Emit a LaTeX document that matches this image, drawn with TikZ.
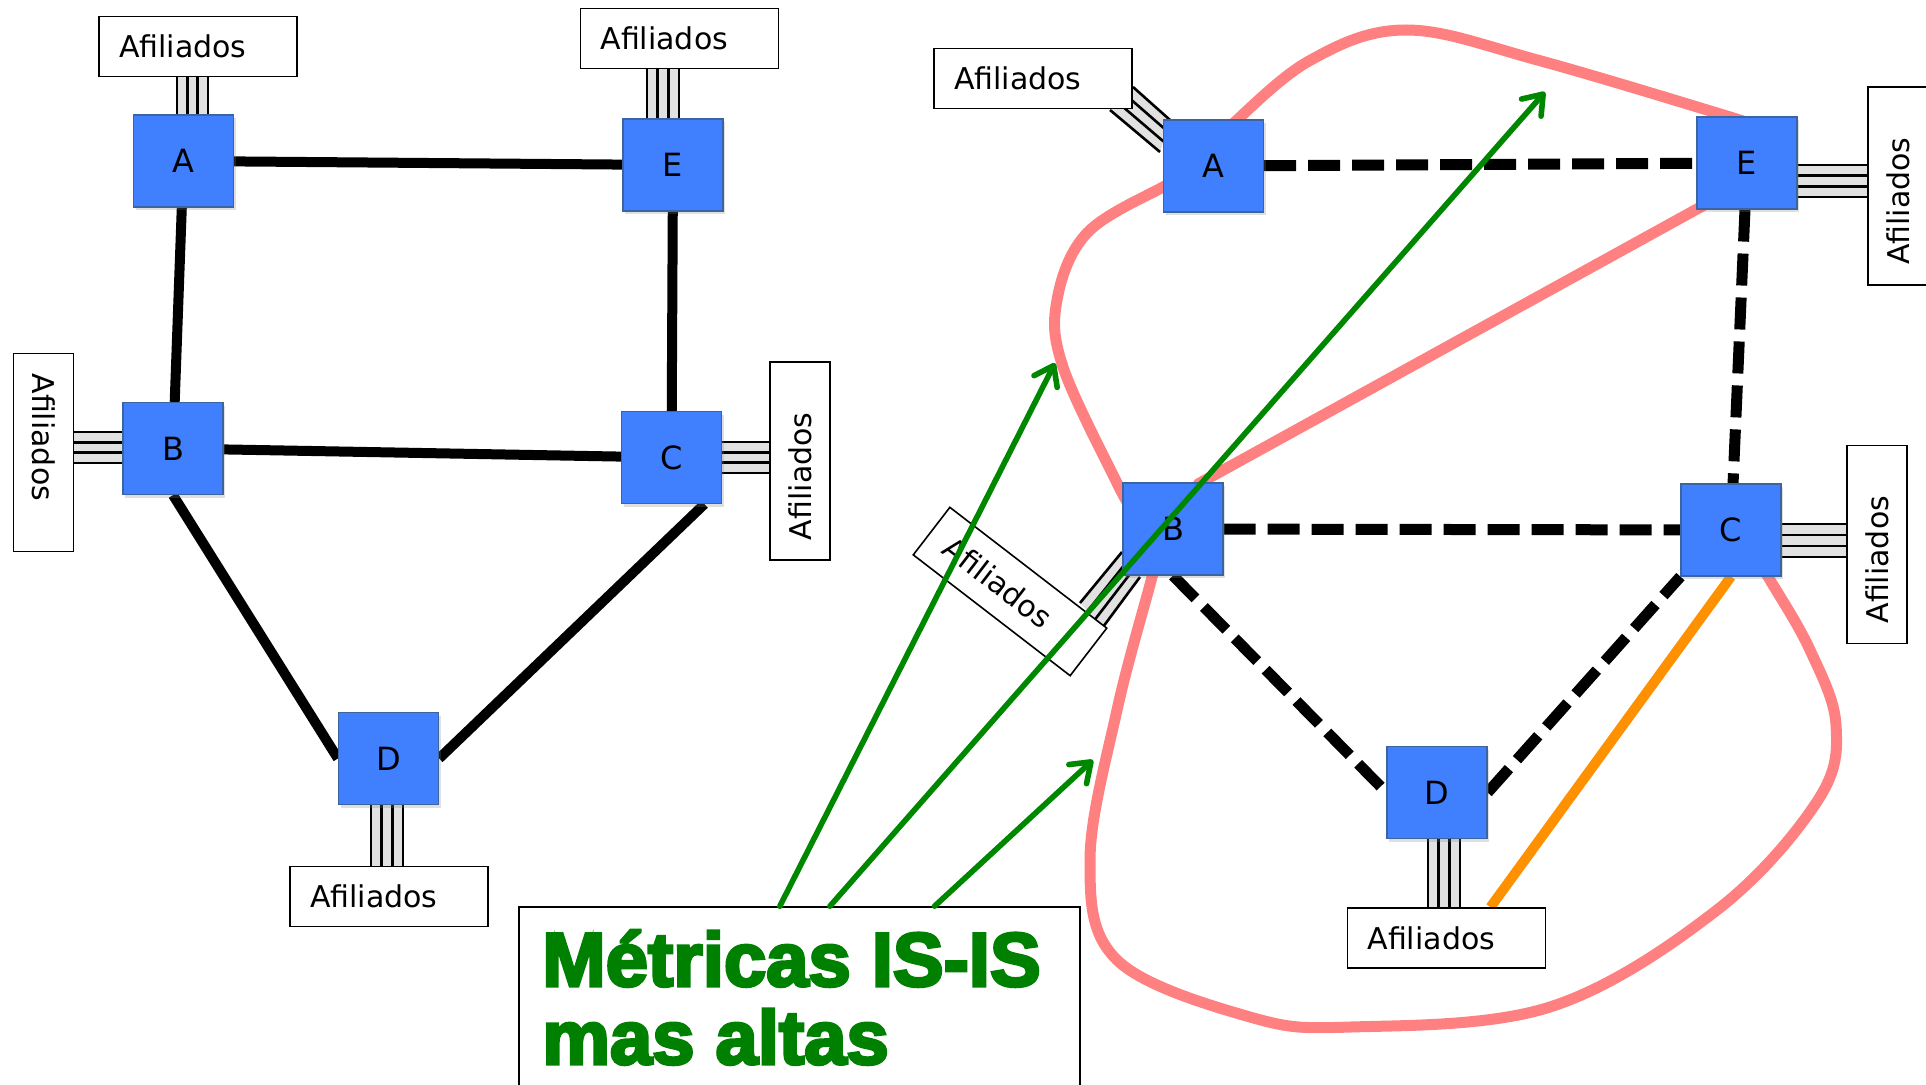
\documentclass[tikz,border=0pt]{standalone}
\usepackage{fontspec}
\setmainfont{DejaVu Sans}
\newfontfamily\bigfont[BoldFeatures={FakeBold=4}]{Liberation Sans}
\usetikzlibrary{calc,arrows.meta,shadows}
\definecolor{routerblue}{RGB}{64,128,255}
\definecolor{routeredge}{RGB}{60,100,160}
\definecolor{pinkline}{RGB}{255,128,128}
\definecolor{orangeline}{RGB}{255,145,0}
\definecolor{greenarrow}{RGB}{0,135,0}
\definecolor{greentext}{RGB}{0,128,0}
\definecolor{cablegray}{RGB}{225,225,225}
\pgfdeclarelayer{bg}
\pgfdeclarelayer{paper}
\pgfsetlayers{paper,bg,main}
\newcommand\bundle[4]{%
  \fill[cablegray] #1 -- #2 -- #4 -- #3 -- cycle;
  \foreach \t in {0,0.333,0.667,1}{\draw[cable] ($#1!\t!#3$) -- ($#2!\t!#4$);}%
}
\begin{document}
\begin{tikzpicture}[x=0.5pt,y=-0.5pt,
  router/.style={draw=routeredge, fill=routerblue, line width=0.6pt,
    minimum width=50pt, minimum height=46pt, inner sep=0pt,
    font=\fontsize{16}{18}\selectfont,
    drop shadow={shadow xshift=1pt, shadow yshift=-1.5pt, opacity=0.25}},
  afil/.style={draw, fill=white, line width=0.8pt, minimum height=30pt,
    text width=79pt, inner xsep=10pt, inner ysep=0pt, align=left,
    font=\fontsize{15}{17}\selectfont},
  cable/.style={line width=1.3pt, black},
  solidedge/.style={line width=5pt, black},
  dashedge/.style={line width=5.5pt, black, dash pattern=on 16pt off 6pt},
  pinkpath/.style={line width=5.5pt, pinkline, line cap=round},
  greenarr/.style={line width=2.8pt, greenarrow, line cap=round,
    -{Straight Barb[length=9pt,width=13pt,round]}},
  bigtxt/.style={inner sep=0pt, text=greentext,
    font=\bigfont\bfseries\fontsize{38}{44}\selectfont}
]
\begin{pgfonlayer}{paper}
\fill[white] (0,0) rectangle (1926,1085);
\end{pgfonlayer}
\useasboundingbox (0,0) rectangle (1926,1085);

% ---------- left graph ----------
\node[router] (lA) at (183.5,161) {A};
\node[router] (lE) at (673,165) {E};
\node[router] (lB) at (173,448.5) {B};
\node[router] (lC) at (671.5,457.5) {C};
\node[router] (lD) at (388.5,758.5) {D};
\node[afil] (afA) at (198,46.5) {Afiliados};
\node[afil] (afE) at (679.5,38.5) {Afiliados};
\node[afil, rotate=-90] (afB) at (43.5,452.5) {Afiliados};
\node[afil, rotate=90] (afC) at (800,461) {Afiliados};
\node[afil] (afD) at (389,896.5) {Afiliados};

% ---------- right graph ----------
\node[router] (rA) at (1213.5,166) {A};
\node[router] (rE) at (1747,163) {E};
\node[router] (rB) at (1173,529) {B};
\node[router] (rC) at (1731,530) {C};
\node[router] (rD) at (1437,792.5) {D};
\node[afil] (afrA) at (1033,78.5) {Afiliados};
\node[afil, rotate=90] (afrE) at (1898,186) {Afiliados};
\node[afil, rotate=-37.6] (afrB) at (1010,591.5) {Afiliados};
\node[afil, rotate=90] (afrC) at (1877,544.5) {Afiliados};
\node[afil] (afrD) at (1446.5,938) {Afiliados};

\begin{pgfonlayer}{bg}
  % cables
  \bundle{(177,77)}{(177,115)}{(208,77)}{(208,115)}
  \bundle{(647,68)}{(647,119)}{(679,68)}{(679,119)}
  \bundle{(74,432)}{(123,432)}{(74,463)}{(123,463)}
  \bundle{(721,442)}{(770,442)}{(721,473)}{(770,473)}
  \bundle{(371,805)}{(371,867)}{(403,805)}{(403,867)}
  \bundle{(1133,87)}{(1170,120)}{(1110,110)}{(1160,152)}
  \bundle{(1797,165)}{(1868,165)}{(1797,197)}{(1868,197)}
  \bundle{(1781,524)}{(1847,524)}{(1781,557)}{(1847,557)}
  \bundle{(1428,839)}{(1428,908)}{(1460,839)}{(1460,908)}
  \bundle{(1080,603)}{(1122,552)}{(1103,627)}{(1140,577)}
  % left solid links
  \draw[solidedge] (lA) -- (lE);
  \draw[solidedge] (lA) -- (lB);
  \draw[solidedge] (lB) -- (lC);
  \draw[solidedge] (lE) -- (lC);
  \draw[solidedge] (lB.south) -- (lD.west);
  \draw[solidedge] (lD.east) -- ($(lC.south)!0.65!(lC.south east)$);
  % right dashed links
  \draw[dashedge] (rA) -- (rE);
  \draw[dashedge] (rE) -- (rC);
  \draw[dashedge] (rB) -- (rC);
  \draw[dashedge] (rB.south) -- (rD.west);
  \draw[dashedge] (rD.east) -- (rC.south west);
  % pink outline
  \draw[pinkpath] plot[smooth, tension=0.6] coordinates
    {(1215,140) (1227,129) (1309,61) (1406,30) (1541,61) (1756,125) (1765,130)};
  \draw[pinkpath] ($(rE.center)+(-30,35)$) -- ($(rB.center)+(25,-45)$);
  \draw[pinkpath] plot[smooth, tension=0.6] coordinates
    {(1185,178) (1163,187) (1087,233) (1057,300) (1063,367) (1117,483) (1130,505)};
  \draw[pinkpath] plot[smooth, tension=0.6] coordinates
    {(1155,560) (1152,577) (1117,710) (1090,860) (1117,960) (1250,1017)
     (1351,1027) (1550,1007) (1717,910) (1818,800) (1836,725) (1810,650)
     (1770,580) (1760,565)};
  % orange link
  \draw[orangeline, line width=5pt] (rC.south) -- ($(afrD.north east)!0.28!(afrD.north west)$);
\end{pgfonlayer}

% text box and arrows
\node[draw, line width=0.8pt, minimum width=280.5pt, minimum height=95pt, inner sep=0pt]
  (metbox) at (799.5,1002) {};
\node[bigtxt, anchor=base west] (t1) at (542,986) {Métricas IS-IS};
\node[bigtxt, anchor=base west] (t2) at (542,1064) {mas altas};
\coordinate (tip1) at (1055,363);
\coordinate (tip2) at (1545,92);
\coordinate (tip3) at (1093,760);
\draw[greenarr] ($(metbox.north west)!0.465!(metbox.north east)$) -- (tip1);
\draw[greenarr] ($(metbox.north west)!0.554!(metbox.north east)$) -- (tip2);
\draw[greenarr] ($(metbox.north west)!0.740!(metbox.north east)$) -- (tip3);
\end{tikzpicture}
\end{document}
